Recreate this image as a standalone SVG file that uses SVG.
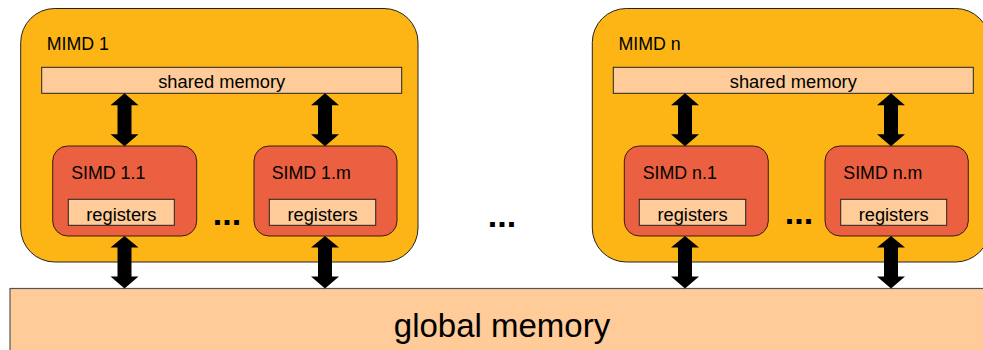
<svg xmlns="http://www.w3.org/2000/svg" width="983" height="350" viewBox="0 0 983 350">
<style>
text{font-family:"Liberation Sans",Arial,Helvetica,sans-serif;fill:#000}
.mimd{fill:#FDB515;stroke:#222;stroke-width:1}
.mem{fill:#FFCC99;stroke:#222;stroke-width:1}
.simd{fill:#EA6040;stroke:#3a1a10;stroke-width:1}
.lbl{font-size:17.8px}
.mt{font-size:18.3px;text-anchor:middle}
.arr{fill:#000}
.dots{font-size:34px;font-weight:bold;text-anchor:middle}
</style>
<defs>
<path id="a1" d="M0,0 L14,12 L7,12 L7,41 L14,41 L0,53 L-14,41 L-7,41 L-7,12 L-14,12 Z"/>
<path id="a2" d="M0,0 L14,11.5 L7,11.5 L7,40.5 L14,40.5 L0,52.5 L-14,40.5 L-7,40.5 L-7,11.5 L-14,11.5 Z"/>
</defs>

<g id="global-memory">
<rect x="10" y="288.5" width="1000" height="100" fill="#FFCC99" stroke="#555" stroke-width="1.2"/>
<text x="502" y="336.5" style="font-size:33px;text-anchor:middle">global memory</text>
</g>

<g id="mimd1">
<rect class="mimd" x="20.7" y="8.5" width="397.3" height="253.5" rx="34" ry="34"/>
<text class="lbl" x="46.7" y="50">MIMD 1</text>
</g>
<g id="shared-memory-1">
<rect class="mem" x="41.7" y="67.3" width="360" height="26"/>
<text class="mt" x="221.7" y="88.3">shared memory</text>
</g>
<g id="simd1-1">
<rect class="simd" x="52.7" y="146" width="144" height="90" rx="15" ry="15"/>
<text class="lbl" x="71.2" y="179.3">SIMD 1.1</text>
<rect class="mem" x="68.3" y="199.3" width="106" height="26"/>
<text class="mt" x="121.3" y="221">registers</text>
</g>
<g id="simd1-m">
<rect class="simd" x="254" y="146" width="143" height="90" rx="15" ry="15"/>
<text class="lbl" x="271.7" y="179.3">SIMD 1.m</text>
<rect class="mem" x="269.3" y="199.3" width="106.4" height="26"/>
<text class="mt" x="322.5" y="221">registers</text>
</g>
<text class="dots" x="227" y="225">...</text>

<g id="mimdn">
<rect class="mimd" x="592.3" y="8.5" width="397.3" height="253.5" rx="34" ry="34"/>
<text class="lbl" x="618.5" y="50">MIMD n</text>
</g>
<g id="shared-memory-n">
<rect class="mem" x="613.3" y="67.3" width="360" height="26"/>
<text class="mt" x="793.3" y="88.3">shared memory</text>
</g>
<g id="simdn-1">
<rect class="simd" x="624.3" y="146" width="144" height="90" rx="15" ry="15"/>
<text class="lbl" x="642.7" y="179.3">SIMD n.1</text>
<rect class="mem" x="639.3" y="199.3" width="106.4" height="26"/>
<text class="mt" x="692.5" y="221">registers</text>
</g>
<g id="simdn-m">
<rect class="simd" x="825" y="146" width="143.3" height="90" rx="15" ry="15"/>
<text class="lbl" x="843.3" y="179.3">SIMD n.m</text>
<rect class="mem" x="840.7" y="199.3" width="106" height="26"/>
<text class="mt" x="893.7" y="221">registers</text>
</g>
<text class="dots" x="799" y="224.3">...</text>

<text class="dots" x="502" y="227.3">...</text>

<g id="connectors" class="arr">
<use href="#a1" x="124.5" y="93.3"/>
<use href="#a1" x="325" y="93.3"/>
<use href="#a1" x="685" y="93.3"/>
<use href="#a1" x="891" y="93.3"/>
<use href="#a2" x="124.5" y="236"/>
<use href="#a2" x="325" y="236"/>
<use href="#a2" x="685" y="236"/>
<use href="#a2" x="891" y="236"/>
</g>
</svg>
